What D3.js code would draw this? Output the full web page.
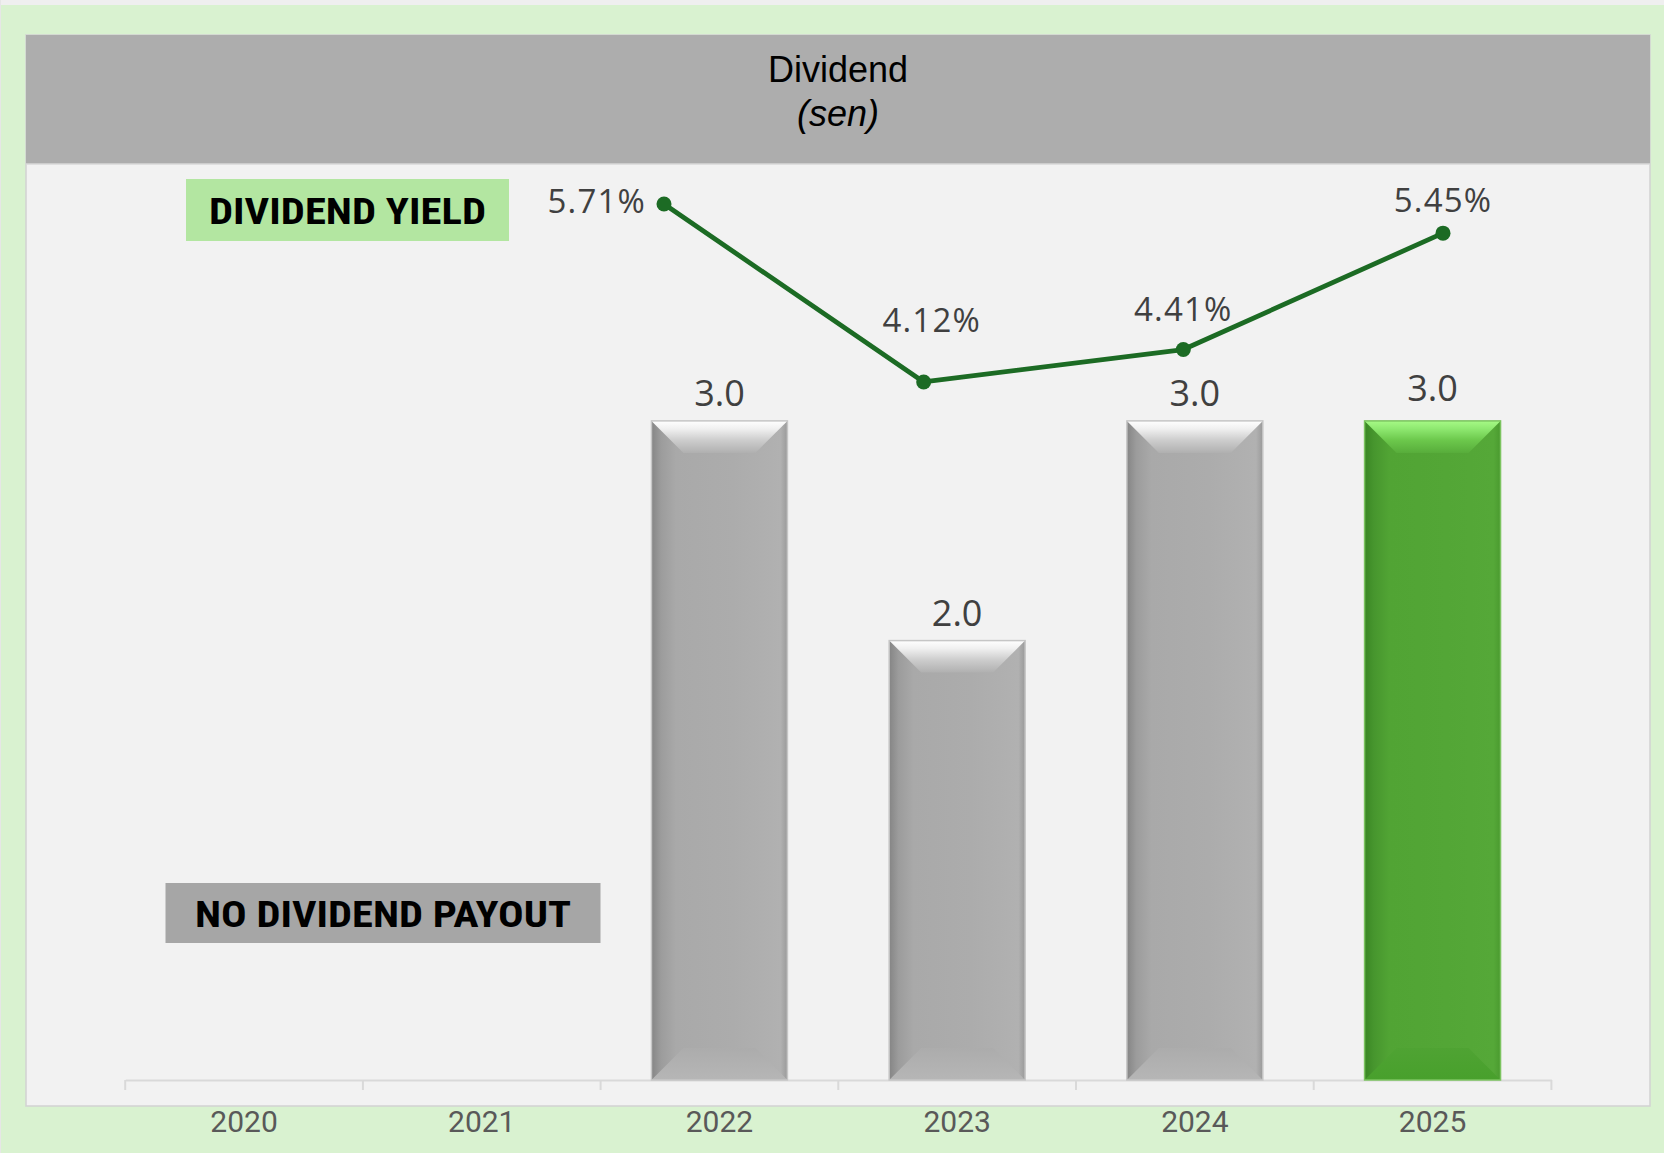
<!DOCTYPE html>
<html>
<head>
<meta charset="utf-8">
<script src="https://cdn.jsdelivr.net/npm/d3@7"></script>
<style>
  html, body { margin: 0; padding: 0; background: #d9f2d0; }
  svg { display: block; }
</style>
</head>
<body>
<div id="chart"></div>
<script>
// data
const years = ["2020", "2021", "2022", "2023", "2024", "2025"];
const dividend = [null, null, 3.0, 2.0, 3.0, 3.0];
const yieldYears = ["2022", "2023", "2024", "2025"];
const dividendYield = [5.71, 4.12, 4.41, 5.45];
const highlightYear = "2025";

// label nudges (px) for the yield labels, as placed in the original
const yieldLabelDx = [-18, 8, 0, 0];
const yieldLabelDy = [9, -50, -29, -21];
const barLabelLift = [15, 15, 15, 15, 15, 20];

const W = 1664, H = 1153;
const panel = { x: 26, y: 35, w: 1624, h: 1071 };
const headerH = 129;
const axisY = 1080;

const svg = d3.select("#chart").append("svg")
  .attr("width", W)
  .attr("height", H);

const defs = svg.append("defs");

function hGrad(id, stops) {
  const g = defs.append("linearGradient").attr("id", id)
    .attr("x1", "0%").attr("y1", "0%").attr("x2", "100%").attr("y2", "0%");
  stops.forEach(s => g.append("stop").attr("offset", s[0]).attr("stop-color", s[1]));
}
function vGrad(id, stops) {
  const g = defs.append("linearGradient").attr("id", id)
    .attr("x1", "0%").attr("y1", "0%").attr("x2", "0%").attr("y2", "100%");
  stops.forEach(s => g.append("stop").attr("offset", s[0]).attr("stop-color", s[1]));
}

hGrad("grayBody", [[0, "#858585"], [0.07, "#9c9c9c"], [0.18, "#a9a9a9"], [0.6, "#acacac"], [0.95, "#b1b1b1"], [1, "#9a9a9a"]]);
vGrad("grayTop", [[0, "#ffffff"], [0.25, "#f0f0f0"], [0.6, "#cdcdcd"], [1, "#b0b0b0"]]);
vGrad("grayBottom", [[0, "#acacac"], [1, "#b6b6b6"]]);
hGrad("greenBody", [[0, "#3a8724"], [0.07, "#47962e"], [0.18, "#51a434"], [0.6, "#53a636"], [0.95, "#55a838"], [1, "#4a9a2f"]]);
vGrad("greenTop", [[0, "#a6fa86"], [0.25, "#8ee870"], [0.6, "#6cc84c"], [1, "#58ad3b"]]);
vGrad("greenBottom", [[0, "#4fa333"], [1, "#48a02c"]]);

// page frame
svg.append("rect").attr("x", 0).attr("y", 0).attr("width", W).attr("height", H).attr("fill", "#d9f2d0");
svg.append("rect").attr("x", 0).attr("y", 0).attr("width", W).attr("height", 5).attr("fill", "#efefef");
svg.append("rect").attr("x", 0).attr("y", 0).attr("width", 1).attr("height", H).attr("fill", "#e6e6e6");

svg.append("rect")
  .attr("x", panel.x).attr("y", panel.y)
  .attr("width", panel.w).attr("height", panel.h)
  .attr("fill", "#f2f2f2")
  .attr("stroke", "#d2d2d2").attr("stroke-width", 1.5);

svg.append("rect")
  .attr("x", panel.x).attr("y", panel.y)
  .attr("width", panel.w).attr("height", headerH)
  .attr("fill", "#adadad");
svg.append("line")
  .attr("x1", panel.x).attr("x2", panel.x + panel.w)
  .attr("y1", panel.y + headerH).attr("y2", panel.y + headerH)
  .attr("stroke", "#d9d9d9").attr("stroke-width", 1.5);

const cx = panel.x + panel.w / 2;
svg.append("text")
  .attr("x", cx).attr("y", 82)
  .attr("text-anchor", "middle")
  .style("font-family", "'Liberation Sans', Arial, sans-serif")
  .style("font-size", "36px")
  .style("fill", "#000")
  .text("Dividend");
svg.append("text")
  .attr("x", cx).attr("y", 126)
  .attr("text-anchor", "middle")
  .style("font-family", "'Liberation Sans', Arial, sans-serif")
  .style("font-size", "36px")
  .style("font-style", "italic")
  .style("fill", "#000")
  .text("(sen)");

// scales
const x = d3.scaleBand()
  .domain(years)
  .range([125.2, 1551.4])
  .paddingInner(0.428)
  .paddingOuter(0.214);

const y = d3.scaleLinear()
  .domain([0, 4])
  .range([axisY, axisY - 4 * 219.7]);

const x2 = d3.scalePoint()
  .domain(yieldYears)
  .range([664, 1443]);

const y2 = d3.scaleLinear()
  .domain([4, 6])
  .range([395.4, 171.6]);

// category axis with tick marks between categories
const axis = svg.append("g")
  .attr("transform", `translate(0,${axisY})`)
  .call(d3.axisBottom(x).tickSize(0).tickPadding(40));
axis.select(".domain")
  .attr("stroke", "#d9d9d9").attr("stroke-width", 2);
axis.selectAll(".tick text")
  .style("font-family", "Roboto, 'Liberation Sans', sans-serif")
  .style("font-size", "30px")
  .style("fill", "#595959")
  .attr("dy", "0");
axis.selectAll(".tick text").attr("y", 52);

const half = (x.step() - x.bandwidth()) / 2;
const bounds = years.map(d => x(d) - half).concat([x(years[years.length - 1]) + x.bandwidth() + half]);
axis.selectAll("line.sep")
  .data(bounds)
  .enter().append("line")
  .attr("class", "sep")
  .attr("x1", d => d).attr("x2", d => d)
  .attr("y1", 0).attr("y2", 10)
  .attr("stroke", "#d9d9d9").attr("stroke-width", 2);

// bars
const barData = years.map((yr, i) => ({ year: yr, value: dividend[i], lift: barLabelLift[i] }))
  .filter(d => d.value != null);

const bevel = 32;
const bars = svg.append("g").selectAll("g.bar")
  .data(barData)
  .enter().append("g")
  .attr("class", "bar");

bars.append("rect")
  .attr("x", d => x(d.year))
  .attr("y", d => y(d.value))
  .attr("width", x.bandwidth())
  .attr("height", d => y(0) - y(d.value))
  .attr("fill", d => d.year === highlightYear ? "url(#greenBody)" : "url(#grayBody)");

bars.append("polygon")
  .attr("points", d => {
    const x0 = x(d.year), x1 = x0 + x.bandwidth(), t = y(d.value);
    return [[x0, t], [x1, t], [x1 - bevel, t + bevel], [x0 + bevel, t + bevel]].join(" ");
  })
  .attr("fill", d => d.year === highlightYear ? "url(#greenTop)" : "url(#grayTop)");

bars.append("polygon")
  .attr("points", d => {
    const x0 = x(d.year), x1 = x0 + x.bandwidth(), b = y(0);
    return [[x0, b], [x1, b], [x1 - bevel, b - bevel], [x0 + bevel, b - bevel]].join(" ");
  })
  .attr("fill", d => d.year === highlightYear ? "url(#greenBottom)" : "url(#grayBottom)");

bars.append("rect")
  .attr("x", d => x(d.year))
  .attr("y", d => y(d.value))
  .attr("width", x.bandwidth())
  .attr("height", d => y(0) - y(d.value))
  .attr("fill", "none")
  .attr("stroke", d => d.year === highlightYear ? "#7cc460" : "#c6c6c6")
  .attr("stroke-width", 1.5);

bars.append("text")
  .attr("x", d => x(d.year) + x.bandwidth() / 2)
  .attr("y", d => y(d.value) - d.lift)
  .attr("text-anchor", "middle")
  .style("font-family", "'Open Sans', 'DejaVu Sans', sans-serif")
  .style("font-size", "36px")
  .style("fill", "#404040")
  .text(d => d.value.toFixed(1));

// yield line
const yieldData = yieldYears.map((yr, i) => ({
  year: yr, value: dividendYield[i], dx: yieldLabelDx[i], dy: yieldLabelDy[i]
}));

const line = d3.line()
  .x(d => x2(d.year))
  .y(d => y2(d.value));

svg.append("path")
  .datum(yieldData)
  .attr("d", line)
  .attr("fill", "none")
  .attr("stroke", "#1c6b24")
  .attr("stroke-width", 4.8)
  .attr("stroke-linejoin", "round");

svg.append("g").selectAll("circle")
  .data(yieldData)
  .enter().append("circle")
  .attr("cx", d => x2(d.year))
  .attr("cy", d => y2(d.value))
  .attr("r", 7.5)
  .attr("fill", "#1c6b24");

svg.append("g").selectAll("text")
  .data(yieldData)
  .enter().append("text")
  .attr("x", d => x2(d.year) + d.dx)
  .attr("y", d => y2(d.value) + d.dy)
  .attr("text-anchor", (d, i) => i === 0 ? "end" : "middle")
  .style("font-family", "'Open Sans', 'DejaVu Sans', sans-serif")
  .style("font-size", "33px")
  .style("letter-spacing", "1.2px")
  .style("fill", "#404040")
  .text(d => d.value.toFixed(2) + "%");

// annotation boxes
function tagBox(bx, by, bw, bh, fill, label, tw, baseline) {
  svg.append("rect")
    .attr("x", bx).attr("y", by)
    .attr("width", bw).attr("height", bh)
    .attr("fill", fill);
  svg.append("text")
    .attr("x", bx + bw / 2).attr("y", baseline)
    .attr("text-anchor", "middle")
    .attr("textLength", tw)
    .attr("lengthAdjust", "spacingAndGlyphs")
    .style("font-family", "'Liberation Sans Narrow', 'Roboto Condensed', Roboto, sans-serif")
    .style("font-weight", "bold")
    .style("font-size", "36px")
    .style("fill", "#000")
    .text(label);
}

tagBox(186, 179, 323, 62, "#b3e6a1", "DIVIDEND YIELD", 277, 224);
tagBox(165.5, 883, 435, 60, "#a6a6a6", "NO DIVIDEND PAYOUT", 376, 927);
</script>
</body>
</html>
